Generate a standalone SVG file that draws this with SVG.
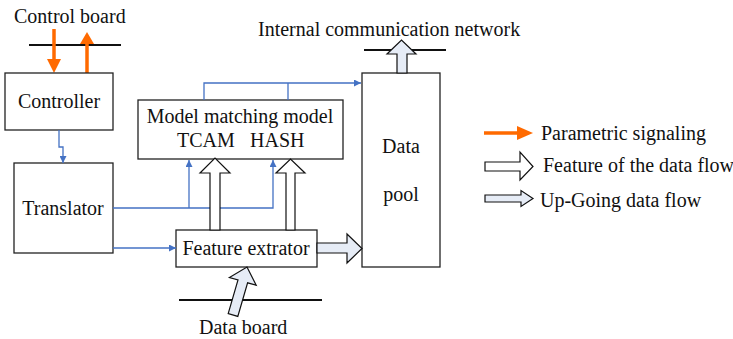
<svg xmlns="http://www.w3.org/2000/svg" width="733" height="339" viewBox="0 0 733 339">
<defs>
<style>
.box{fill:#fff;stroke:#222;stroke-width:1.3}
.t{font-family:"Liberation Serif","Times New Roman",serif;font-size:20px;fill:#111}
.blue{fill:none;stroke:#4472C4;stroke-width:1.3}
.hollow{fill:#fff;stroke:#111;stroke-width:1.2;stroke-linejoin:miter}
.lb{fill:#E6ECF6;stroke:#111;stroke-width:1.2}
.bar{stroke:#111;stroke-width:2.2}
.or{stroke:#FF6A00;stroke-width:3.5;fill:none}
.orh{fill:#FF6A00}
</style>
<marker id="ba" viewBox="0 0 10 10" refX="10" refY="5" markerWidth="8" markerHeight="7" markerUnits="userSpaceOnUse" orient="auto">
<path d="M0,0 L10,5 L0,10 Z" fill="#4472C4"/>
</marker>
</defs>
<rect width="733" height="339" fill="#fff"/>

<g id="control-board">
<text class="t" x="14" y="23">Control board</text>
<line class="bar" x1="29" y1="45" x2="121" y2="45"/>
<line class="or" x1="54" y1="29" x2="54" y2="60"/>
<polygon class="orh" points="47,59 61,59 54,73"/>
<line class="or" x1="87" y1="75" x2="87" y2="42"/>
<polygon class="orh" points="80,44 94,44 87,32"/>
</g>

<g id="controller">
<rect class="box" x="5" y="73" width="108" height="57"/>
<text class="t" x="59" y="108" text-anchor="middle">Controller</text>
</g>

<g id="translator">
<rect class="box" x="14" y="163" width="99" height="90"/>
<text class="t" x="63" y="215" text-anchor="middle">Translator</text>
</g>

<g id="model-matching">
<rect class="box" x="138" y="100" width="205" height="59"/>
<text class="t" x="240" y="123" text-anchor="middle">Model matching model</text>
<text class="t" x="177" y="147">TCAM</text>
<text class="t" x="250" y="147">HASH</text>
</g>

<g id="data-pool">
<rect class="box" x="362" y="73" width="78" height="194"/>
<text class="t" x="401" y="153" text-anchor="middle">Data</text>
<text class="t" x="401" y="201" text-anchor="middle">pool</text>
</g>

<g id="feature-extractor">
<rect class="box" x="176" y="230" width="141" height="37"/>
<text class="t" x="246" y="255" text-anchor="middle">Feature extrator</text>
</g>

<g id="internal-network">
<text class="t" x="258" y="36">Internal communication network</text>
<line class="bar" x1="364" y1="50" x2="446" y2="50"/>
</g>

<g id="data-board">
<line class="bar" x1="179" y1="300" x2="322" y2="300"/>
<text class="t" x="199" y="334">Data board</text>
</g>

<g id="connectors">
<polyline class="blue" points="59,130 59,147 63,147 63,163" marker-end="url(#ba)"/>
<polyline class="blue" points="113,208 273,208 273,160" marker-end="url(#ba)"/>
<line class="blue" x1="189" y1="208" x2="189" y2="160" marker-end="url(#ba)"/>
<line class="blue" x1="113" y1="248" x2="176" y2="248" marker-end="url(#ba)"/>
<polyline class="blue" points="204,100 204,83 361,83" marker-end="url(#ba)"/>
<line class="blue" x1="288" y1="100" x2="288" y2="83"/>
<polygon class="hollow" points="210,230 210,173 200,173 215,158 230,173 220,173 220,230"/>
<polygon class="hollow" points="286,230 286,173 276,173 290.5,159 305,173 295,173 295,230"/>
<polygon class="lb" points="317,243 347,243 347,234 362,248.5 347,263 347,253 317,253"/>
<polygon class="lb" points="397,73 397,54 387,54 401.5,40 416,54 407,54 407,73"/>
<polygon class="lb" points="228.2,313.6 238,280 229.4,277.5 247,267 256.2,285.3 247.6,282.8 237.8,316.4"/>
</g>

<g id="legend">
<line class="or" x1="484" y1="133" x2="520" y2="133"/>
<polygon class="orh" points="517,126 533,133 517,140"/>
<text class="t" x="541" y="140">Parametric signaling</text>
<polygon class="hollow" points="485,162 520,162 520,152 533,166.5 520,180 520,171 485,171"/>
<text class="t" x="543" y="172">Feature of the data flow</text>
<polygon class="lb" points="485,195 521,195 521,190.5 533,198.5 521,206.5 521,202 485,202"/>
<text class="t" x="540" y="207">Up-Going data flow</text>
</g>
</svg>
